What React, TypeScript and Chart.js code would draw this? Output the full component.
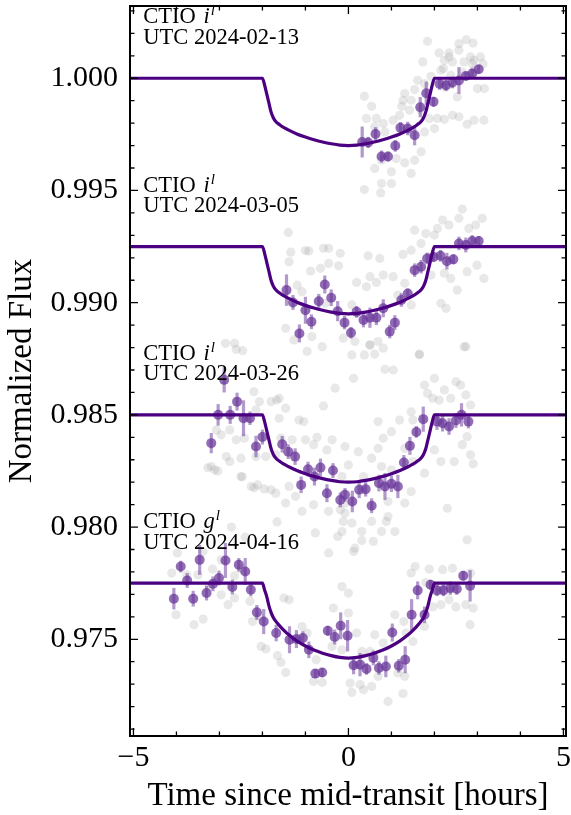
import React, { useEffect, useRef } from 'react';
import { Chart, registerables } from 'chart.js';

Chart.register(...registerables);

// ---------- axes ----------
const X_MIN = -5.08;
const X_MAX = 5.06;
const Y_MIN = 0.97069;
const Y_MAX = 1.00322;
const X_MAJOR = [-5, 0, 5];
const X_MINOR = [-4, -3, -2, -1, 1, 2, 3, 4];
const Y_MAJOR = [0.975, 0.98, 0.985, 0.99, 0.995, 1.0];
const Y_MINOR = [0.971, 0.972, 0.973, 0.974, 0.976, 0.977, 0.978, 0.979, 0.981, 0.982, 0.983, 0.984, 0.986, 0.987, 0.988, 0.989, 0.991, 0.992, 0.993, 0.994, 0.996, 0.997, 0.998, 0.999, 1.001, 1.002, 1.003];

const X_TITLE = 'Time since mid-transit [hours]';
const Y_TITLE = 'Normalized Flux';

// ---------- labels ----------
const LABEL_BANDS = ['i', 'i', 'i', 'g'];
const LABEL_DATES = ['UTC 2024-02-13', 'UTC 2024-03-05', 'UTC 2024-03-26', 'UTC 2024-04-16'];
const LABEL_X = -4.77;
const LABEL_Y = [1.00245, 0.99495, 0.98745, 0.97995];

// ---------- transit models ----------
const MODEL_T = [-5.2, -2.0, -1.95, -1.9, -1.85, -1.8, -1.75, -1.7, -1.6, -1.5, -1.4, -1.2, -1.0, -0.8, -0.6, -0.4, -0.2, 0, 0.2, 0.4, 0.6, 0.8, 1.0, 1.2, 1.4, 1.5, 1.6, 1.7, 1.75, 1.8, 1.85, 1.9, 1.95, 2.0, 5.2];
const MODEL_1 = [1.0, 1.0, 0.9997, 0.9993, 0.9989, 0.9985, 0.99825, 0.9981, 0.99793, 0.9978, 0.9977, 0.99752, 0.99738, 0.99726, 0.99716, 0.99708, 0.99702, 0.997, 0.99702, 0.99708, 0.99716, 0.99726, 0.99738, 0.99752, 0.9977, 0.9978, 0.99793, 0.9981, 0.99825, 0.9985, 0.9989, 0.9993, 0.9997, 1.0, 1.0];
const MODEL_2 = [0.9925, 0.9925, 0.9922, 0.9918, 0.9914, 0.991, 0.99075, 0.9906, 0.99043, 0.9903, 0.9902, 0.99002, 0.98988, 0.98976, 0.98966, 0.98958, 0.98952, 0.9895, 0.98952, 0.98958, 0.98966, 0.98976, 0.98988, 0.99002, 0.9902, 0.9903, 0.99043, 0.9906, 0.99075, 0.991, 0.9914, 0.9918, 0.9922, 0.9925, 0.9925];
const MODEL_3 = [0.985, 0.985, 0.9847, 0.9843, 0.9839, 0.9835, 0.98325, 0.9831, 0.98293, 0.9828, 0.9827, 0.98252, 0.98238, 0.98226, 0.98216, 0.98208, 0.98202, 0.982, 0.98202, 0.98208, 0.98216, 0.98226, 0.98238, 0.98252, 0.9827, 0.9828, 0.98293, 0.9831, 0.98325, 0.9835, 0.9839, 0.9843, 0.9847, 0.985, 0.985];
const MODEL_4 = [0.9775, 0.9775, 0.9772, 0.9769, 0.9765, 0.9762, 0.97598, 0.97583, 0.9756, 0.9754, 0.97522, 0.97493, 0.9747, 0.97452, 0.97438, 0.97427, 0.97419, 0.97416, 0.97419, 0.97427, 0.97438, 0.97452, 0.9747, 0.97493, 0.97522, 0.9754, 0.9756, 0.97583, 0.97598, 0.9762, 0.9765, 0.9769, 0.9772, 0.9775, 0.9775];

// ---------- binned data ----------
const BIN_T_1 = [0.32, 0.46, 0.63, 0.77, 0.92, 1.09, 1.21, 1.38, 1.54, 1.67, 1.81, 1.98, 2.12, 2.27, 2.42, 2.57, 2.73, 2.88, 3.03];
const BIN_F_1 = [0.99716, 0.99714, 0.99752, 0.99651, 0.99651, 0.99699, 0.99779, 0.99776, 0.99746, 0.99871, 0.99933, 0.99895, 0.99975, 0.99969, 0.99981, 0.9999, 1.0001, 1.00021, 1.0004];
const BIN_E_1 = [0.00069, 0.00025, 0.0003, 0.00027, 0.00022, 0.00026, 0.00026, 0.0003, 0.00045, 0.00045, 0.00052, 0.00022, 0.00027, 0.00025, 0.00026, 0.0006, 0.00019, 0.00022, 0.00019];

const BIN_T_2 = [-1.44, -1.29, -1.14, -1.0, -0.86, -0.69, -0.55, -0.4, -0.25, -0.09, 0.06, 0.19, 0.35, 0.5, 0.65, 0.81, 0.96, 1.08, 1.23, 1.38, 1.54, 1.69, 1.83, 1.98, 2.14, 2.29, 2.44, 2.57, 2.73, 2.88, 3.03];
const BIN_F_2 = [0.99056, 0.99001, 0.98863, 0.98966, 0.98915, 0.99006, 0.99081, 0.99022, 0.98962, 0.98911, 0.98866, 0.98959, 0.98923, 0.98933, 0.98933, 0.98975, 0.98871, 0.98911, 0.99012, 0.99041, 0.99145, 0.9916, 0.99197, 0.99204, 0.99209, 0.99185, 0.99193, 0.99264, 0.99257, 0.99275, 0.99275];
const BIN_E_2 = [0.0007, 0.00033, 0.0004, 0.0006, 0.00033, 0.00033, 0.0004, 0.00037, 0.00045, 0.0003, 0.00026, 0.00026, 0.00033, 0.00045, 0.00033, 0.0004, 0.0003, 0.00033, 0.0003, 0.00022, 0.0003, 0.0003, 0.00026, 0.00022, 0.00026, 0.00037, 0.00022, 0.0003, 0.00033, 0.00026, 0.00022];

const BIN_T_3 = [-3.19, -3.03, -2.89, -2.75, -2.59, -2.44, -2.29, -2.15, -2.0, -1.54, -1.4, -1.24, -1.1, -0.94, -0.79, -0.65, -0.5, -0.36, -0.19, -0.08, 0.09, 0.25, 0.4, 0.54, 0.71, 0.85, 1.0, 1.15, 1.29, 1.43, 1.58, 1.74, 2.06, 2.19, 2.34, 2.5, 2.63, 2.79];
const BIN_F_3 = [0.98374, 0.985, 0.98656, 0.985, 0.98559, 0.98485, 0.98485, 0.98359, 0.98401, 0.98369, 0.98336, 0.98314, 0.98188, 0.98258, 0.98225, 0.98265, 0.98151, 0.98252, 0.98121, 0.98144, 0.98114, 0.98166, 0.98169, 0.98095, 0.98196, 0.98181, 0.98193, 0.98181, 0.98288, 0.98362, 0.98424, 0.98481, 0.9847, 0.98463, 0.98448, 0.98475, 0.985, 0.9847];
const BIN_E_3 = [0.00045, 0.00048, 0.00056, 0.0004, 0.0004, 0.0008, 0.0003, 0.00048, 0.00033, 0.00037, 0.00033, 0.00037, 0.00037, 0.00033, 0.0004, 0.0004, 0.0004, 0.00033, 0.00033, 0.0003, 0.00048, 0.00037, 0.00033, 0.00033, 0.00037, 0.0006, 0.00037, 0.00052, 0.00033, 0.0004, 0.00026, 0.00056, 0.00037, 0.00037, 0.00037, 0.00033, 0.00052, 0.0003];

const BIN_T_4 = [-4.06, -3.9, -3.75, -3.61, -3.46, -3.3, -3.15, -3.01, -2.86, -2.7, -2.55, -2.4, -2.27, -2.13, -1.97, -1.68, -1.37, -1.21, -1.06, -0.92, -0.77, -0.61, -0.48, -0.32, -0.18, -0.02, 0.12, 0.27, 0.42, 0.58, 0.71, 0.87, 1.02, 1.17, 1.32, 1.47, 1.61, 1.77, 1.91, 2.06, 2.21, 2.37, 2.52, 2.67, 2.83];
const BIN_F_4 = [0.97681, 0.97824, 0.97762, 0.97681, 0.97854, 0.97706, 0.97747, 0.97773, 0.97851, 0.97733, 0.97832, 0.97802, 0.97721, 0.9762, 0.97579, 0.97528, 0.97498, 0.97501, 0.97506, 0.97453, 0.97347, 0.97352, 0.97538, 0.9751, 0.9756, 0.97516, 0.97384, 0.97387, 0.97368, 0.97417, 0.97372, 0.97379, 0.9753, 0.97382, 0.97409, 0.97609, 0.97718, 0.97609, 0.97743, 0.97718, 0.97718, 0.97728, 0.97724, 0.97783, 0.97738];
const BIN_E_4 = [0.00048, 0.00026, 0.00033, 0.00035, 0.00067, 0.00033, 0.00033, 0.00033, 0.00078, 0.00033, 0.0003, 0.0006, 0.0003, 0.00033, 0.00056, 0.00037, 0.0006, 0.0004, 0.0003, 0.00037, 0.0002, 0.0002, 0.00022, 0.00033, 0.0006, 0.0007, 0.0004, 0.00052, 0.00026, 0.00033, 0.0003, 0.00048, 0.0004, 0.0003, 0.0006, 0.0007, 0.0004, 0.00037, 0.00022, 0.00026, 0.00026, 0.0003, 0.00026, 0.00022, 0.0007];

// ---------- unbinned data [time, flux] ----------
const RAW_1: [number, number][] = [
  [1.84, 1.00165], [2.11, 1.00113], [2.34, 1.00113], [2.57, 1.00154], [2.57, 1.00125], [2.74, 1.00172], [2.9, 1.00157], [1.73, 1.00073], [2.23, 1.0008], [2.42, 1.00073],
  [2.69, 1.00073], [2.88, 1.00065], [3.07, 1.00095], [3.13, 1.00065], [2.15, 1.00036], [1.92, 1.00009], [2.38, 1.00013], [2.65, 1.00028], [2.92, 1.00036], [1.61, 0.99991],
  [1.54, 0.9995], [1.31, 0.99932], [1.27, 0.99902], [0.37, 0.9992], [0.54, 0.99875], [0.42, 0.99821], [0.65, 0.99821], [0.61, 0.99783], [0.81, 0.99798], [0.85, 0.99761],
  [1.04, 0.99813], [1.19, 0.99835], [1.42, 0.99858], [1.46, 0.99902], [1.69, 0.99858], [1.88, 0.99821], [2.07, 0.99821], [2.23, 0.99817], [2.42, 0.99835], [2.57, 0.99828],
  [2.76, 0.99795], [2.92, 0.99813], [3.15, 0.99813], [1.77, 0.99761], [2.0, 0.99776], [1.69, 0.99672], [1.54, 0.99635], [1.46, 0.99576], [1.31, 0.99623], [1.11, 0.99642],
  [1.0, 0.99583], [0.77, 0.99635], [0.61, 0.99598], [0.77, 0.99531], [1.0, 0.99531], [0.37, 0.99504], [0.75, 0.99489], [3.0, 0.99954], [3.16, 0.99954], [1.77, 0.99976],
  [1.24, 0.99875], [2.21, 1.00043], [2.34, 1.00095], [2.84, 1.00095], [2.92, 1.0008], [2.53, 0.99917], [2.26, 0.99959],
];
const RAW_2: [number, number][] = [
  [-1.4, 0.99313], [-1.34, 0.99225], [-1.0, 0.99232], [-0.92, 0.9923], [-0.58, 0.99242], [-0.46, 0.99242], [-0.19, 0.9922], [-1.38, 0.99182], [-0.88, 0.99141], [-0.65, 0.99153],
  [-0.46, 0.99175], [-0.23, 0.99164], [0.19, 0.9909], [0.46, 0.99209], [0.73, 0.99197], [0.5, 0.99116], [0.81, 0.99123], [1.04, 0.99116], [0.65, 0.9909], [0.42, 0.99071],
  [1.27, 0.99215], [1.46, 0.99234], [1.54, 0.99323], [1.69, 0.99264], [1.8, 0.99308], [2.0, 0.99301], [2.07, 0.99331], [2.19, 0.99368], [2.34, 0.99346], [2.57, 0.99376],
  [2.65, 0.99417], [2.8, 0.99331], [2.96, 0.99346], [3.11, 0.99376], [2.99, 0.99167], [3.15, 0.99108], [2.76, 0.99138], [2.38, 0.99108], [2.53, 0.99056], [2.23, 0.99131],
  [1.92, 0.99123], [2.15, 0.98997], [2.27, 0.98975], [1.31, 0.99086], [1.15, 0.99034], [1.46, 0.9899], [-1.08, 0.99049], [-1.19, 0.99078], [-1.46, 0.98886], [-1.27, 0.98834],
  [-0.85, 0.98849], [-0.61, 0.98804], [-0.12, 0.98842], [0.15, 0.98827], [0.5, 0.98812], [0.69, 0.98827], [0.81, 0.98797], [1.65, 0.98768], [2.73, 0.98804], [-0.96, 0.98783],
  [0.08, 0.9899], [-0.54, 0.98997],
];
const RAW_3: [number, number][] = [
  [-2.86, 0.98819], [-2.65, 0.98819], [-2.46, 0.98786], [-2.61, 0.98792], [-2.2, 0.98603], [-2.07, 0.98559], [-1.8, 0.98559], [-1.67, 0.98566], [-1.61, 0.98574], [-2.15, 0.98522],
  [-1.61, 0.98485], [-1.46, 0.9853], [-1.15, 0.98477], [-1.04, 0.9847], [-0.58, 0.9854], [-0.31, 0.98619], [-3.07, 0.98433], [-2.96, 0.98411], [-2.76, 0.98433], [-2.61, 0.98389],
  [-2.42, 0.98396], [-2.84, 0.98314], [-2.76, 0.98292], [-2.5, 0.98307], [-2.15, 0.98314], [-1.92, 0.98314], [-1.69, 0.98322], [-1.57, 0.98396], [-1.31, 0.98389], [-1.0, 0.98389],
  [-0.81, 0.98367], [-0.73, 0.984], [-0.38, 0.98389], [-0.5, 0.98344], [-0.08, 0.98359], [-3.19, 0.9827], [-3.11, 0.98255], [-2.5, 0.98225], [-2.26, 0.98181], [-2.11, 0.98188],
  [-1.8, 0.98166], [-1.69, 0.98151], [-1.38, 0.98181], [-1.46, 0.98107], [-1.23, 0.98137], [-1.08, 0.9807], [-0.81, 0.98099], [-0.46, 0.9807], [-0.19, 0.98077], [-0.08, 0.98107],
  [-3.27, 0.98264], [-3.04, 0.9825], [-2.47, 0.98224], [-2.19, 0.98175], [-1.96, 0.9817],
  [0.08, 0.98767], [0.37, 0.98767], [0.61, 0.98771], [0.5, 0.98811], [0.85, 0.98703], [1.04, 0.987], [1.65, 0.98771], [2.69, 0.98804], [0.12, 0.98663], [0.69, 0.9847],
  [1.19, 0.98477], [1.5, 0.98477], [1.46, 0.98514], [1.77, 0.98633], [1.84, 0.98596], [2.0, 0.98663], [1.96, 0.98574], [2.11, 0.98566], [2.23, 0.98611], [2.38, 0.98574],
  [2.5, 0.98648], [2.61, 0.98633], [2.73, 0.98589], [2.84, 0.98544], [2.76, 0.98403], [2.84, 0.98322], [2.9, 0.98282], [2.46, 0.98292], [2.65, 0.98367], [2.15, 0.98292],
  [2.0, 0.98344], [1.77, 0.9824], [1.5, 0.98292], [1.31, 0.98351], [1.0, 0.98425], [0.81, 0.98396], [0.54, 0.98307], [0.23, 0.98336], [0.0, 0.98277], [-0.15, 0.98225],
  [0.35, 0.98225], [0.77, 0.9827], [1.0, 0.98255], [1.46, 0.98158], [1.31, 0.98107], [0.92, 0.98114], [0.92, 0.98047], [-0.08, 0.98062], [2.3, 0.98084], [0.69, 0.98351],
];
const RAW_4: [number, number][] = [
  [-3.98, 0.97884], [-3.38, 0.97891], [-3.16, 0.97813], [-2.96, 0.97854], [-4.01, 0.97609], [-3.59, 0.97565], [-3.38, 0.9759], [-2.8, 0.97654], [-2.65, 0.97684], [-2.96, 0.97698],
  [-3.24, 0.97735], [-2.29, 0.97669], [-2.23, 0.97579], [-2.07, 0.97602], [-2.03, 0.97468], [-1.92, 0.97457], [-1.65, 0.97427], [-1.57, 0.97397], [-1.46, 0.97352], [-1.5, 0.97684],
  [-1.38, 0.97676], [-1.08, 0.97557], [-0.96, 0.97528], [-0.75, 0.97409], [-0.61, 0.97308], [-0.81, 0.97312], [-0.35, 0.97639], [-3.76, 0.97787], [-4.11, 0.97795], [-3.5, 0.97787],
  [-2.65, 0.97783], [-2.5, 0.97813], [-1.66, 0.98023], [-0.77, 0.97974], [-0.46, 0.97885], [-2.72, 0.98], [-2.4, 0.97955],
  [-0.12, 0.98025], [0.08, 0.98018], [0.54, 0.98025], [0.88, 0.98025], [-0.25, 0.97958], [-0.15, 0.9798], [0.31, 0.9798], [0.31, 0.9794], [0.58, 0.97936], [0.77, 0.9798],
  [1.08, 0.9798], [0.15, 0.97906], [0.12, 0.97891], [2.76, 0.97943], [1.46, 0.97795], [1.55, 0.97824], [1.88, 0.97813], [2.19, 0.9781], [2.42, 0.97817], [2.84, 0.97795],
  [1.8, 0.97753], [1.96, 0.97644], [2.15, 0.97654], [2.5, 0.97644], [2.34, 0.97676], [2.73, 0.97654], [2.9, 0.97639], [2.83, 0.97565], [1.29, 0.97579], [1.08, 0.97609],
  [1.34, 0.97528], [1.5, 0.9749], [1.77, 0.97557], [0.81, 0.97483], [0.61, 0.9752], [0.19, 0.97528], [0.0, 0.97617], [-0.15, 0.97735], [0.0, 0.97706], [-0.38, 0.97468],
  [-0.15, 0.97453], [0.31, 0.97446], [0.5, 0.97446], [0.69, 0.97335], [1.15, 0.9735], [1.31, 0.97335], [0.04, 0.97305], [0.27, 0.97298], [0.54, 0.9729], [0.35, 0.97275],
  [0.08, 0.97263], [1.27, 0.97258], [0.92, 0.97223],
];

const RAWS = [RAW_1, RAW_2, RAW_3, RAW_4];
const BIN_TS = [BIN_T_1, BIN_T_2, BIN_T_3, BIN_T_4];
const BIN_FS = [BIN_F_1, BIN_F_2, BIN_F_3, BIN_F_4];
const BIN_ES = [BIN_E_1, BIN_E_2, BIN_E_3, BIN_E_4];
const MODELS = [MODEL_1, MODEL_2, MODEL_3, MODEL_4];

const SERIF = '"Liberation Serif", "Times New Roman", serif';
const MODEL_COLOR = '#4b0082';
const BIN_COLOR = 'rgba(102, 51, 153, 0.72)';
const BAR_COLOR = 'rgba(102, 51, 153, 0.5)';
const RAW_COLOR = 'rgba(150, 150, 150, 0.22)';

const errorBars = {
  id: 'errorBars',
  beforeDatasetDraw(chart: any, args: any) {
    const ds = chart.data.datasets[args.index];
    if (!ds.errs) return;
    const { ctx, scales: { x, y } } = chart;
    ctx.save();
    ctx.strokeStyle = BAR_COLOR;
    ctx.lineWidth = 3.2;
    ds.data.forEach((p: any, i: number) => {
      const px = x.getPixelForValue(p.x);
      const e = ds.errs[i];
      ctx.beginPath();
      ctx.moveTo(px, y.getPixelForValue(p.y - e));
      ctx.lineTo(px, y.getPixelForValue(p.y + e));
      ctx.stroke();
    });
    ctx.restore();
  },
};

const labelsPlugin = {
  id: 'curveLabels',
  afterDatasetsDraw(chart: any) {
    const { ctx, scales: { x, y } } = chart;
    ctx.save();
    ctx.fillStyle = '#000';
    ctx.textAlign = 'left';
    ctx.textBaseline = 'alphabetic';
    LABEL_BANDS.forEach((band, i) => {
      const px = x.getPixelForValue(LABEL_X);
      const py = y.getPixelForValue(LABEL_Y[i]);
      ctx.font = `22.5px ${SERIF}`;
      ctx.fillText('CTIO', px, py);
      const w = ctx.measureText('CTIO ').width + 2;
      ctx.font = `italic 22.5px ${SERIF}`;
      ctx.fillText(band, px + w, py);
      const w2 = ctx.measureText(band).width;
      ctx.font = `italic 15px ${SERIF}`;
      ctx.fillText('l', px + w + w2 + 1, py - 8);
      ctx.font = `22.5px ${SERIF}`;
      ctx.fillText(LABEL_DATES[i], px, py + 20.5);
    });
    ctx.restore();
  },
};

const frameTicks = {
  id: 'frameTicks',
  afterDraw(chart: any) {
    const { ctx, chartArea: a, scales: { x, y } } = chart;
    ctx.save();
    ctx.strokeStyle = '#000';
    ctx.lineWidth = 1.3;
    const vt = (v: number, len: number) => {
      const px = x.getPixelForValue(v);
      ctx.beginPath();
      ctx.moveTo(px, a.bottom);
      ctx.lineTo(px, a.bottom - len);
      ctx.moveTo(px, a.top);
      ctx.lineTo(px, a.top + len);
      ctx.stroke();
    };
    const ht = (v: number, len: number) => {
      const py = y.getPixelForValue(v);
      ctx.beginPath();
      ctx.moveTo(a.left, py);
      ctx.lineTo(a.left + len, py);
      ctx.moveTo(a.right, py);
      ctx.lineTo(a.right - len, py);
      ctx.stroke();
    };
    X_MAJOR.forEach((v) => vt(v, 8));
    X_MINOR.forEach((v) => vt(v, 4.5));
    Y_MAJOR.forEach((v) => ht(v, 8));
    Y_MINOR.forEach((v) => ht(v, 4.5));
    ctx.lineWidth = 2;
    ctx.strokeRect(a.left, a.top, a.right - a.left, a.bottom - a.top);
    ctx.restore();
  },
};

export default function App() {
  const ref = useRef<HTMLCanvasElement>(null);

  useEffect(() => {
    document.body.style.margin = '0';
    const datasets: any[] = [];
    for (let k = 0; k < 4; k++) {
      datasets.push({
        label: `raw${k}`,
        data: RAWS[k].map(([t, f]) => ({ x: t, y: f })),
        pointRadius: 4.6,
        pointBackgroundColor: RAW_COLOR,
        pointBorderWidth: 0,
        pointBorderColor: 'rgba(0,0,0,0)',
        showLine: false,
        order: 3,
      });
      datasets.push({
        label: `bin${k}`,
        data: BIN_TS[k].map((t, i) => ({ x: t, y: BIN_FS[k][i] })),
        errs: BIN_ES[k],
        pointRadius: 5,
        pointBackgroundColor: BIN_COLOR,
        pointBorderWidth: 0,
        pointBorderColor: 'rgba(0,0,0,0)',
        showLine: false,
        order: 2,
      });
      datasets.push({
        label: `model${k}`,
        data: MODEL_T.map((t, i) => ({ x: t, y: MODELS[k][i] })),
        showLine: true,
        borderColor: MODEL_COLOR,
        borderWidth: 3.2,
        pointRadius: 0,
        fill: false,
        cubicInterpolationMode: 'monotone',
        order: 1,
      });
    }

    const chart = new Chart(ref.current as HTMLCanvasElement, {
      type: 'scatter',
      data: { datasets },
      options: {
        animation: false,
        responsive: false,
        devicePixelRatio: 1,
        events: [],
        layout: { padding: { top: 6, right: 1.7, bottom: 0, left: 0 } },
        plugins: { legend: { display: false }, tooltip: { enabled: false } },
        scales: {
          x: {
            type: 'linear',
            min: X_MIN,
            max: X_MAX,
            grid: { display: false, drawTicks: false },
            border: { display: false },
            afterBuildTicks: (s: any) => { s.ticks = X_MAJOR.map((v) => ({ value: v })); },
            afterFit: (s: any) => { s.height = 79; s.paddingLeft = 0; s.paddingRight = 0; },
            ticks: {
              autoSkip: false,
              maxRotation: 0,
              padding: 4,
              color: '#000',
              font: { family: SERIF, size: 30 },
              callback: (v: any) => (v < 0 ? '\u2212' + Math.abs(v) : String(v)),
            },
            title: {
              display: true,
              text: X_TITLE,
              color: '#000',
              font: { family: SERIF, size: 33, lineHeight: 1 },
              padding: { top: 0, bottom: 2 },
            },
          },
          y: {
            type: 'linear',
            min: Y_MIN,
            max: Y_MAX,
            grid: { display: false, drawTicks: false },
            border: { display: false },
            afterBuildTicks: (s: any) => { s.ticks = Y_MAJOR.map((v) => ({ value: v })); },
            afterFit: (s: any) => { s.width = 130; s.paddingTop = 0; s.paddingBottom = 0; },
            ticks: {
              autoSkip: false,
              padding: 12,
              color: '#000',
              font: { family: SERIF, size: 30 },
              callback: (v: any) => Number(v).toFixed(3),
            },
            title: {
              display: true,
              text: Y_TITLE,
              color: '#000',
              font: { family: SERIF, size: 33, lineHeight: 1 },
              padding: { top: 6, bottom: 0 },
            },
          },
        },
      } as any,
      plugins: [errorBars, labelsPlugin, frameTicks],
    });
    return () => chart.destroy();
  }, []);

  return <canvas ref={ref} width={571} height={815} style={{ display: 'block', width: 571, height: 815 }} />;
}
